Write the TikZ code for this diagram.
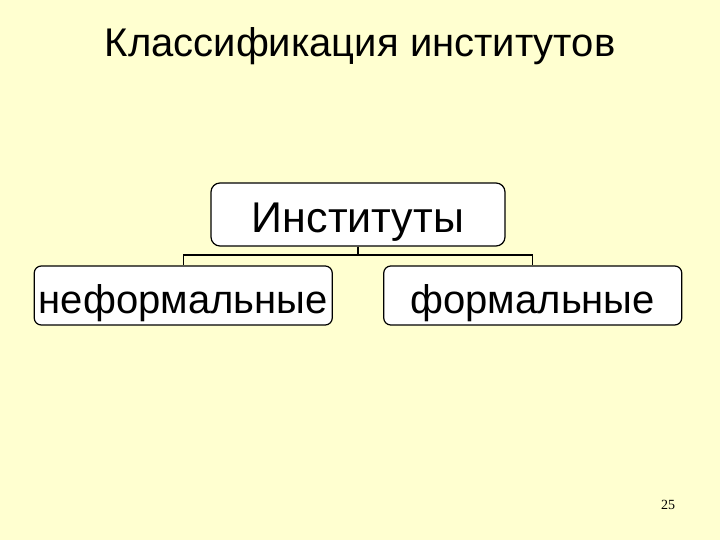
\documentclass[tikz,border=0pt]{standalone}
\usepackage{fontspec}
\setmainfont{Liberation Sans}
\newfontfamily\pagefont{Liberation Serif}
\usepackage{tikz}
\usetikzlibrary{trees}

\definecolor{slidebg}{RGB}{255,255,208}

\begin{document}
\begin{tikzpicture}[
    x=1pt, y=-1pt,
    grow=down, % tree grows from the top down
    level distance=81pt, % distance between root and children
    sibling distance=349.5pt, % distance between the two children
    edge from parent fork down, % square bracket connectors
    edge from parent/.style={draw, line width=1.4pt},
    every node/.style={
        draw, % border round every box
        line width=1.2pt,
        rounded corners=9pt,
        fill=white,
        align=center,
        inner sep=0pt
    },
    rootbox/.style={minimum width=294pt, minimum height=63pt, text height=37pt, text depth=0pt, font=\fontsize{43}{48}\selectfont},
    kindbox/.style={minimum width=298pt, minimum height=59pt, text height=35pt, text depth=0pt, font=\fontsize{40}{45}\selectfont, rounded corners=7pt}
]
% slide background
\useasboundingbox[fill=slidebg] (0,0) rectangle (720,540);

\node[draw=none, fill=none, anchor=base, font=\fontsize{40}{45}\selectfont] (title) at (360,57) {Классификация институтов};

\node[rootbox] (root) at (358,214.5) {Институты}
    child { node[kindbox] (informal) {неформальные} }
    child { node[kindbox] (formal) {формальные} }
;

\node[draw=none, fill=none, font=\pagefont\fontsize{14}{16}\selectfont] (pagenum) at (668,505) {25};
\end{tikzpicture}
\end{document}
